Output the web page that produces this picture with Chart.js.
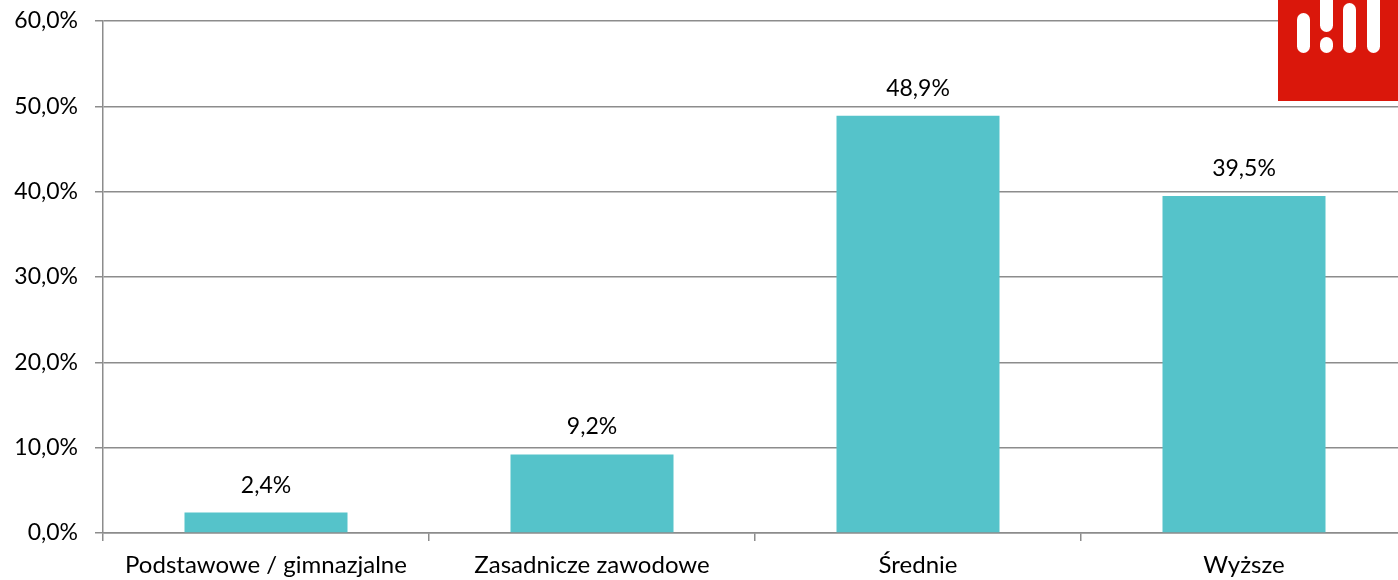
<!DOCTYPE html>
<html>
<head>
<meta charset="utf-8">
<script src="https://cdn.jsdelivr.net/npm/chart.js@4/dist/chart.umd.min.js"></script>
<style>
  html, body { margin: 0; padding: 0; background: #fff; overflow: hidden; }
  #wrap { position: relative; width: 1398px; height: 580px; overflow: hidden; }
  #box { position: absolute; left: 0; top: 0; width: 1407px; height: 580px; }
  #logo { position: absolute; left: 1278px; top: 0; width: 120px; height: 101px; background: #da170b; }
  #logo span { position: absolute; width: 13px; background: #fff; border-radius: 7px; }
</style>
</head>
<body>
<div id="wrap">
  <div id="box"><canvas id="chart"></canvas></div>
  <div id="logo">
    <span style="left:19px;top:13px;height:40px"></span>
    <span style="left:42px;top:-8px;height:40px"></span>
    <span style="left:42px;top:37px;height:16px"></span>
    <span style="left:65px;top:3px;height:50px"></span>
    <span style="left:89px;top:-8px;height:61px"></span>
  </div>
</div>
<script>
const categories = ['Podstawowe / gimnazjalne', 'Zasadnicze zawodowe', 'Średnie', 'Wyższe'];
const shares = [2.4, 9.2, 48.9, 39.5];
const yTicks = [0, 10, 20, 30, 40, 50, 60];

const FONT = 'Lato, "Open Sans", sans-serif';
const fmt = v => v.toFixed(1).replace('.', ',') + '%';

// draws the value above each bar, like the excel data labels
const barLabels = {
  id: 'barLabels',
  afterDatasetsDraw(chart) {
    const ctx = chart.ctx;
    const meta = chart.getDatasetMeta(0);
    ctx.save();
    ctx.font = '23px ' + FONT;
    ctx.fillStyle = '#000';
    ctx.textAlign = 'center';
    ctx.textBaseline = 'alphabetic';
    meta.data.forEach((bar, i) => {
      ctx.fillText(fmt(shares[i]), bar.x, bar.y - 20);
    });
    ctx.restore();
  }
};

new Chart(document.getElementById('chart'), {
  type: 'bar',
  data: {
    labels: categories,
    datasets: [{
      data: shares,
      backgroundColor: '#55c3ca',
      categoryPercentage: 1,
      barPercentage: 0.5
    }]
  },
  options: {
    responsive: true,
    maintainAspectRatio: false,
    animation: false,
    layout: { padding: { top: 21, right: 0, left: 0, bottom: 0 } },
    plugins: {
      legend: { display: false },
      tooltip: { enabled: false }
    },
    scales: {
      x: {
        offset: true,
        grid: { offset: true, drawOnChartArea: false, drawTicks: true, tickLength: 8, color: '#8c8c8c', lineWidth: 1.5 },
        border: { color: '#8c8c8c', width: 1.5 },
        ticks: { color: '#000', font: { family: FONT, size: 24 }, padding: 10, maxRotation: 0, autoSkip: false },
        afterFit(scale) { scale.height = 47; scale.paddingLeft = 0; scale.paddingRight = 0; }
      },
      y: {
        min: 0,
        max: 60,
        afterBuildTicks(scale) { scale.ticks = yTicks.map(v => ({ value: v })); },
        grid: { color: '#8c8c8c', lineWidth: 1.5, tickLength: 8 },
        border: { color: '#8c8c8c', width: 1.5 },
        ticks: { color: '#000', font: { family: FONT, size: 23 }, padding: 17, callback: v => fmt(v) },
        afterFit(scale) { scale.width = 103; scale.paddingTop = 0; scale.paddingBottom = 0; }
      }
    }
  },
  plugins: [barLabels]
});
</script>
</body>
</html>
